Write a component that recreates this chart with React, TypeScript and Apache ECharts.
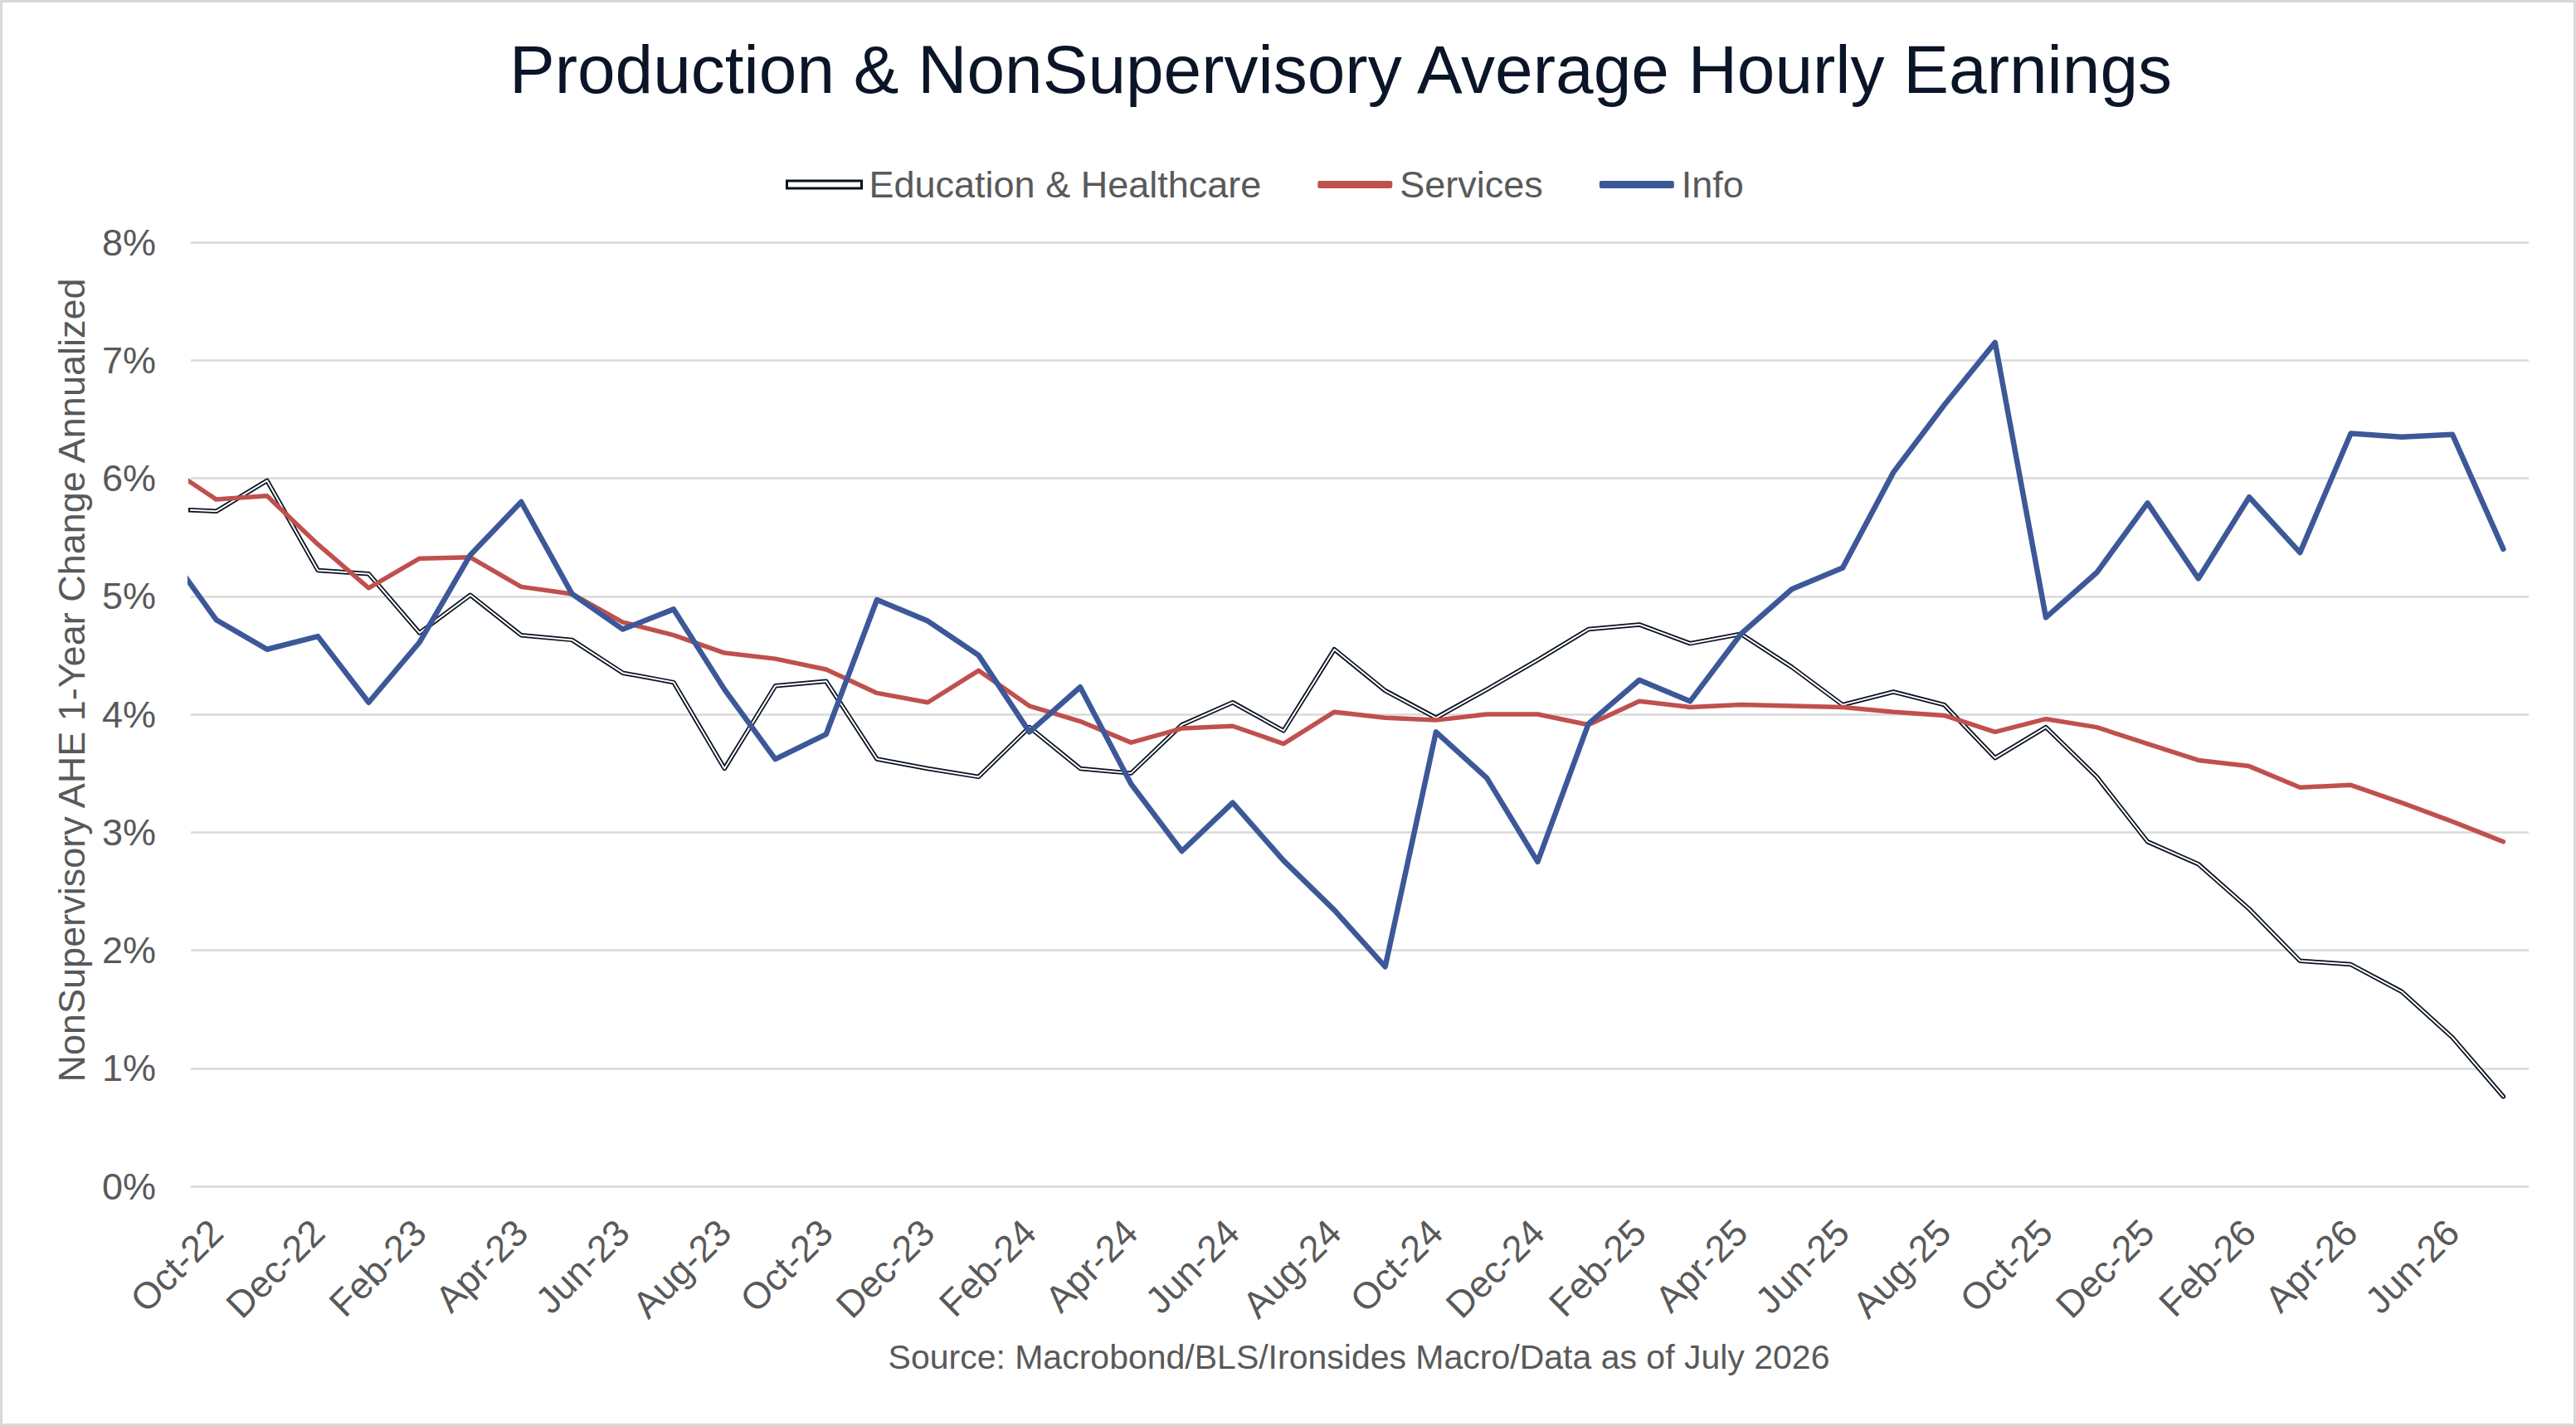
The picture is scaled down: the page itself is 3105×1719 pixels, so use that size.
import React, { useEffect, useRef } from "react";
import * as echarts from "echarts";

// Sep-22 is only the clipped lead-in segment at the left edge
const months = [
  "Sep-22", "Oct-22", "Nov-22", "Dec-22",
  "Jan-23", "Feb-23", "Mar-23", "Apr-23", "May-23", "Jun-23", "Jul-23", "Aug-23", "Sep-23", "Oct-23", "Nov-23", "Dec-23",
  "Jan-24", "Feb-24", "Mar-24", "Apr-24", "May-24", "Jun-24", "Jul-24", "Aug-24", "Sep-24", "Oct-24", "Nov-24", "Dec-24",
  "Jan-25", "Feb-25", "Mar-25", "Apr-25", "May-25", "Jun-25", "Jul-25", "Aug-25", "Sep-25", "Oct-25", "Nov-25", "Dec-25",
  "Jan-26", "Feb-26", "Mar-26", "Apr-26", "May-26", "Jun-26", "Jul-26",
];

const educationHealthcare = [
  5.74, 5.72, 5.98, 5.22,
  5.19, 4.69, 5.01, 4.67, 4.63, 4.35, 4.27, 3.54, 4.24, 4.28, 3.62, 3.54,
  3.47, 3.89, 3.54, 3.50, 3.91, 4.10, 3.86, 4.55, 4.20, 3.97, 4.21, 4.46,
  4.72, 4.76, 4.60, 4.68, 4.40, 4.08, 4.19, 4.08, 3.63, 3.89, 3.47, 2.92,
  2.73, 2.35, 1.91, 1.88, 1.65, 1.26, 0.76,
];

const services = [
  6.11, 5.82, 5.85, 5.44,
  5.07, 5.32, 5.33, 5.08, 5.02, 4.78, 4.67, 4.52, 4.47, 4.38, 4.18, 4.10,
  4.37, 4.07, 3.94, 3.76, 3.88, 3.90, 3.75, 4.02, 3.97, 3.95, 4.00, 4.00,
  3.91, 4.11, 4.06, 4.08, 4.07, 4.06, 4.02, 3.99, 3.85, 3.96, 3.89, 3.75,
  3.61, 3.56, 3.38, 3.40, 3.25, 3.09, 2.92,
];

const info = [
  5.40, 4.80, 4.55, 4.66,
  4.10, 4.61, 5.35, 5.80, 5.02, 4.72, 4.89, 4.21, 3.62, 3.83, 4.97, 4.79,
  4.50, 3.85, 4.23, 3.41, 2.84, 3.25, 2.76, 2.34, 1.86, 3.85, 3.46, 2.75,
  3.92, 4.29, 4.11, 4.68, 5.06, 5.24, 6.05, 6.62, 7.15, 4.82, 5.20, 5.79,
  5.15, 5.84, 5.37, 6.38, 6.35, 6.37, 5.40,
];

const seriesNames = ["Education & Healthcare", "Services", "Info"];
const titleText = "Production & NonSupervisory Average Hourly Earnings";
const yAxisTitle = "NonSupervisory AHE 1-Year Change Annualized";
const sourceText = "Source: Macrobond/BLS/Ironsides Macro/Data as of July 2026";

const FONT = "'Liberation Sans', Arial, sans-serif";
const GREY_TEXT = "#595959";
const GRID_GREY = "#d9d9d9";
const EDU_DARK = "#0a1220";
const RED = "#c0504d";
const BLUE = "#3c5898";

export default function App() {
  const ref = useRef<HTMLDivElement>(null);

  useEffect(() => {
    if (!ref.current) return;
    const chart = echarts.init(ref.current, undefined, { renderer: "svg" });
    chart.setOption({
      animation: false,
      backgroundColor: "#ffffff",
      grid: {
        left: 230,
        right: 57,
        top: 292,
        bottom: 289,
        containLabel: false,
        outerBoundsMode: "none",
      },
      legend: {
        left: 942,
        top: 195,
        itemWidth: 90,
        itemHeight: 9,
        itemGap: 68,
        selectedMode: false,
        textStyle: {
          fontSize: 45,
          color: GREY_TEXT,
          fontFamily: FONT,
          padding: [0, 0, 0, 4],
        },
        data: [
          {
            name: seriesNames[0],
            icon: "rect",
            itemStyle: { color: "#ffffff", borderColor: EDU_DARK, borderWidth: 3 },
          },
          { name: seriesNames[1], icon: "roundRect", itemStyle: { color: RED } },
          { name: seriesNames[2], icon: "roundRect", itemStyle: { color: BLUE } },
        ],
      },
      xAxis: {
        type: "category",
        data: months,
        min: 1,
        boundaryGap: true,
        axisLine: { show: false },
        axisTick: { show: false },
        splitLine: { show: false },
        axisLabel: {
          rotate: 45,
          interval: (index: number) => (index - 1) % 2 === 0,
          fontSize: 45,
          color: GREY_TEXT,
          fontFamily: FONT,
          margin: 48,
        },
      },
      yAxis: {
        type: "value",
        min: 0,
        max: 8,
        interval: 1,
        axisLine: { show: false },
        axisTick: { show: false },
        axisLabel: {
          formatter: "{value}%",
          fontSize: 45,
          color: GREY_TEXT,
          fontFamily: FONT,
          margin: 42,
        },
        splitLine: { show: true, lineStyle: { color: GRID_GREY, width: 2.5 } },
      },
      series: [
        {
          name: seriesNames[0],
          type: "line",
          data: educationHealthcare,
          symbol: "none",
          showSymbol: false,
          clip: true,
          silent: true,
          color: EDU_DARK,
          lineStyle: { color: EDU_DARK, width: 5.5, join: "round", cap: "round" },
        },
        {
          name: "edu-inner",
          type: "line",
          data: educationHealthcare,
          symbol: "none",
          showSymbol: false,
          clip: true,
          silent: true,
          color: "#ffffff",
          lineStyle: { color: "#ffffff", width: 2, join: "round", cap: "round" },
        },
        {
          name: seriesNames[1],
          type: "line",
          data: services,
          symbol: "none",
          showSymbol: false,
          clip: true,
          silent: true,
          color: RED,
          lineStyle: { color: RED, width: 5.5, join: "round", cap: "round" },
        },
        {
          name: seriesNames[2],
          type: "line",
          data: info,
          symbol: "none",
          showSymbol: false,
          clip: true,
          silent: true,
          color: BLUE,
          lineStyle: { color: BLUE, width: 6.5, join: "round", cap: "round" },
        },
      ],
      graphic: [
        {
          type: "rect",
          silent: true,
          shape: { x: 1.5, y: 1.5, width: 3102, height: 1716 },
          style: { fill: "none", stroke: GRID_GREY, lineWidth: 3 },
        },
        {
          type: "text",
          silent: true,
          x: 1616,
          y: 83,
          style: {
            text: titleText,
            fontSize: 82,
            fontFamily: FONT,
            fill: "#0b1528",
            align: "center",
            verticalAlign: "middle",
          },
        },
        {
          type: "text",
          silent: true,
          x: 86,
          y: 820,
          rotation: Math.PI / 2,
          style: {
            text: yAxisTitle,
            fontSize: 45,
            fontFamily: FONT,
            fill: GREY_TEXT,
            align: "center",
            verticalAlign: "middle",
          },
        },
        {
          type: "text",
          silent: true,
          x: 1638,
          y: 1636,
          style: {
            text: sourceText,
            fontSize: 41,
            fontFamily: FONT,
            fill: GREY_TEXT,
            align: "center",
            verticalAlign: "middle",
          },
        },
      ],
    });
    return () => chart.dispose();
  }, []);

  return (
    <div
      ref={ref}
      style={{ position: "fixed", left: 0, top: 0, width: 3105, height: 1719, background: "#fff" }}
    />
  );
}
